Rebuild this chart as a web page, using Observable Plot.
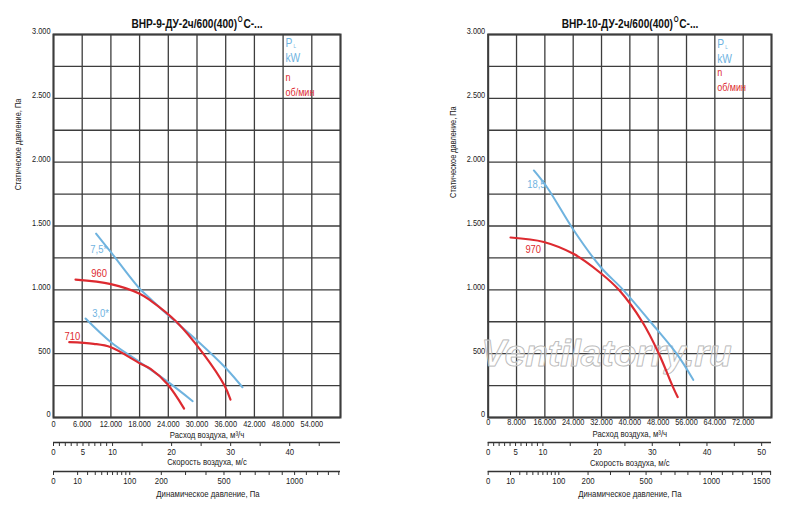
<!DOCTYPE html>
<html>
<head>
<meta charset="utf-8">
<script src="https://cdn.jsdelivr.net/npm/d3@7"></script>
<script src="https://cdn.jsdelivr.net/npm/@observablehq/plot@0.6"></script>
<style>
  body { margin: 0; background: #fff; }
  #chart { position: relative; width: 800px; height: 512px; overflow: hidden; }
  #chart > * { position: absolute; }
  .chart-title { font: bold 13.5px "Liberation Sans", Arial, sans-serif; text-align: center; width: 300px; color: #111;
    transform: scaleX(0.75); transform-origin: center; white-space: nowrap; }
  .chart-title span { font-size: 21px; font-weight: normal; line-height: 0; position: relative; top: 3px; }
</style>
</head>
<body>
<div id="chart"></div>
<script>
// ВНР-9: расход м3/ч -> статическое давление Па
const vnr9Power75 = [[8900,1440],[12000,1295],[18000,1010],[20300,929],[24000,800],[30000,603],[36000,388],[39500,237]];
const vnr9Speed960 = [[4600,1080],[12000,1045],[18000,970],[20300,916],[25700,750],[31300,500],[35750,250],[37000,140]];
const vnr9Power30 = [[6700,775],[12000,590],[18000,435],[24000,277],[29100,128]];
const vnr9Speed710 = [[3300,590],[8400,577],[12000,550],[18000,425],[20300,381],[23800,262],[27300,70]];
const vnr9Labels = [
  {x: 7700, y: 1316, text: "7,5*", kind: "p"},
  {x: 7900, y: 1130, text: "960", kind: "n"},
  {x: 8100, y: 815, text: "3,0*", kind: "p"},
  {x: 2300, y: 633, text: "710", kind: "n"}
];

// ВНР-10
const vnr10Power185 = [[12900,1935],[16700,1800],[24200,1465],[31800,1177],[38100,1000],[45800,750],[53200,500],[57900,295]];
const vnr10Speed970 = [[6300,1410],[15700,1375],[24200,1280],[31800,1130],[36900,1000],[43500,750],[48200,500],[52000,250],[53500,160]];
const vnr10Labels = [
  {x: 11000, y: 1830, text: "18,5", kind: "p"},
  {x: 10500, y: 1321, text: "970", kind: "n"}
];

// оси
const yGrid = [0,250,500,750,1000,1250,1500,1750,2000,2250,2500,2750,3000];
const yTicks = [0,500,1000,1500,2000,2500,3000];
const xGrid9 = [0,6000,12000,18000,24000,30000,36000,42000,48000,54000,60000];
const xTicks9 = [0,6000,12000,18000,24000,30000,36000,42000,48000,54000];
const xGrid10 = [0,8000,16000,24000,32000,40000,48000,56000,64000,72000,80000];
const xTicks10 = [0,8000,16000,24000,32000,40000,48000,56000,64000,72000];

const velTicks9 = [0,1,2,3,4,5,6,7,8,9,10,15,20,25,30,35,40,45];
const velTicks10 = [0,1,2,3,4,5,6,7,8,9,10,15,20,25,30,35,40,45,50];
const velLabels9 = [0,5,10,20,30,40];
const velLabels10 = [0,5,10,20,30,40,50];
const dynTicks9 = [0,10,20,30,40,50,60,70,80,90,100,200,300,400,500,600,700,800,900,1000,1100,1200,1300,1400];
const dynTicks10 = [0,10,20,30,40,50,60,70,80,90,100,200,300,400,500,600,700,800,900,1000,1100,1200,1300,1400,1500,1600];
const dynLabels9 = [0,10,100,200,500,1000];
const dynLabels10 = [0,10,100,200,500,1000,1500];

const BLUE = "#6fb3df";
const RED = "#dd2a30";
const GRID = "#3d3d3d";
const FONT = '"Liberation Sans", Arial, sans-serif';
const WATERMARK = "Ventilatorry.ru";

const fmt = d => d === 0 ? "0" : d3.format(",")(d).replace(/,/g, ".");

// узкий шрифт: сжимаем тексты по горизонтали
function condense(svg, k) {
  d3.select(svg).selectAll("text").each(function() {
    if (this.textContent === WATERMARK) return;
    const t = this.getAttribute("transform") || "";
    this.setAttribute("transform", t + ` scale(${k},1)`);
  });
  return svg;
}

function drawMain(cfg) {
  const lg = {frameAnchor: "top-right", text: d => d, textAnchor: "start", lineAnchor: "middle"};
  return condense(Plot.plot({
    width: 400,
    height: 440,
    marginLeft: cfg.marginLeft,
    marginRight: cfg.marginRight,
    marginTop: 34,
    marginBottom: 23,
    style: {fontFamily: FONT, fontSize: "9px", color: "#222", background: "transparent"},
    x: {domain: [0, cfg.xMax]},
    y: {domain: [0, 3000]},
    marks: [
      Plot.ruleY(yGrid, {stroke: GRID, strokeWidth: 1.3}),
      Plot.ruleX(cfg.xGrid, {stroke: GRID, strokeWidth: 1.3}),
      Plot.frame({stroke: GRID, strokeWidth: 2}),
      cfg.watermark ? Plot.text([WATERMARK], {x: 33400, y: 500, text: d => d, fontSize: 37, fontStyle: "italic", fontWeight: "bold", fill: "white", fillOpacity: 0.35, stroke: "#b0b0b0", strokeWidth: 1}) : null,
      ...cfg.power.map(s => Plot.line(s, {curve: "catmull-rom", stroke: BLUE, strokeWidth: 2})),
      ...cfg.speed.map(s => Plot.line(s, {curve: "catmull-rom", stroke: RED, strokeWidth: 2.2})),
      Plot.text(cfg.labels, {x: "x", y: "y", text: "text", fill: d => d.kind === "p" ? BLUE : RED, fontSize: 11.5, textAnchor: "start"}),
      // легенда
      Plot.text(["P"], {...lg, dx: cfg.legendDx, dy: cfg.legendP, fill: BLUE, fontSize: 12.5}),
      Plot.text(["L"], {...lg, dx: cfg.legendDx + 8, dy: cfg.legendP + 4, fill: BLUE, fontSize: 5.5}),
      Plot.text(["kW"], {...lg, dx: cfg.legendDx, dy: cfg.legendP + 15.5, fill: BLUE, fontSize: 12.5}),
      Plot.text(["n"], {...lg, dx: cfg.legendDx, dy: cfg.legendN, fill: RED, fontSize: 11}),
      Plot.text(["об/мин"], {...lg, dx: cfg.legendDx, dy: cfg.legendN + 14.5, fill: RED, fontSize: 11}),
      Plot.text(["Статическое давление, Па"], {frameAnchor: "left", y: cfg.yLabelAt, text: d => d, rotate: -90, dx: -35, fontSize: 9, fill: "#222"}),
      Plot.text(["Расход воздуха, м³/ч"], {frameAnchor: "bottom", lineAnchor: "middle", text: d => d, dx: cfg.titleDx, dy: cfg.flowTitleDy, fontSize: 9.5, fill: "#222"}),
      Plot.axisX(cfg.xTicks, {label: null, tickSize: 0, tickPadding: cfg.xPad, tickFormat: fmt, fontSize: 9}),
      Plot.axisY(yTicks, {label: null, tickSize: 0, tickPadding: 3, tickFormat: fmt, dy: -3, fontSize: 9})
    ]
  }), 0.82);
}

function drawScale(cfg) {
  return condense(Plot.plot({
    width: 400,
    height: 34,
    marginLeft: cfg.marginLeft,
    marginRight: cfg.marginRight,
    marginTop: 4,
    marginBottom: 29,
    style: {fontFamily: FONT, fontSize: "9.5px", color: "#222", background: "transparent"},
    x: {type: cfg.type, domain: [0, cfg.max]},
    y: {domain: [0, 1], axis: null},
    marks: [
      Plot.ruleY([0], {x1: 0, x2: cfg.max, stroke: "#333", strokeWidth: 1.3}),
      Plot.axisX(cfg.ticks, {label: null, tickSize: 4, tickPadding: 1.5, stroke: "#333", fontSize: 9.5,
        tickFormat: d => cfg.labels.includes(d) ? String(d) : ""}),
      Plot.text([cfg.title], {frameAnchor: "bottom", lineAnchor: "middle", text: d => d, dx: cfg.titleDx, dy: cfg.titleDy, fontSize: 9.5, fill: "#222"})
    ]
  }), 0.82);
}

function place(node, left, top) {
  d3.select(node).style("left", left + "px").style("top", top + "px");
  d3.select("#chart").append(() => node);
}

function addTitle(html, center, top) {
  d3.select("#chart").append("div")
    .attr("class", "chart-title")
    .style("left", (center - 150) + "px")
    .style("top", top + "px")
    .html(html);
}

// левый график ВНР-9
place(drawMain({
  marginLeft: 53, marginRight: 60, xMax: 60000, xGrid: xGrid9, xTicks: xTicks9,
  power: [vnr9Power75, vnr9Power30], speed: [vnr9Speed960, vnr9Speed710], labels: vnr9Labels,
  legendDx: -55, legendP: 8, legendN: 43, yLabelAt: 1780, titleDx: 10, flowTitleDy: 17, xPad: 3
}), 0, 0);
place(drawScale({marginLeft: 53, marginRight: 60, type: "linear", max: 48.6, ticks: velTicks9, labels: velLabels9,
  title: "Скорость воздуха, м/с", titleDx: 10, titleDy: 19.7}), 0, 437);
place(drawScale({marginLeft: 53, marginRight: 60, type: "sqrt", max: 1417, ticks: dynTicks9, labels: dynLabels9,
  title: "Динамическое давление, Па", titleDx: 11, titleDy: 22.8}), 0, 465.5);
addTitle('ВНР-9-ДУ-2ч/600(400)<span>°</span>С-...', 197, 16);

// правый график ВНР-10
place(drawMain({
  marginLeft: 87.7, marginRight: 29, xMax: 80000, xGrid: xGrid10, xTicks: xTicks10,
  power: [vnr10Power185], speed: [vnr10Speed970], labels: vnr10Labels, watermark: true,
  legendDx: -54.3, legendP: 9, legendN: 38, yLabelAt: 1720, titleDx: 0, flowTitleDy: 16, xPad: 1.5
}), 400, 0);
place(drawScale({marginLeft: 87.7, marginRight: 29, type: "linear", max: 51.8, ticks: velTicks10, labels: velLabels10,
  title: "Скорость воздуха, м/с", titleDx: 0, titleDy: 20.7}), 400, 437);
place(drawScale({marginLeft: 87.7, marginRight: 29, type: "sqrt", max: 1610, ticks: dynTicks10, labels: dynLabels10,
  title: "Динамическое давление, Па", titleDx: 0, titleDy: 22}), 400, 466);
addTitle('ВНР-10-ДУ-2ч/600(400)<span>°</span>С-...', 630, 16);
</script>
</body>
</html>
